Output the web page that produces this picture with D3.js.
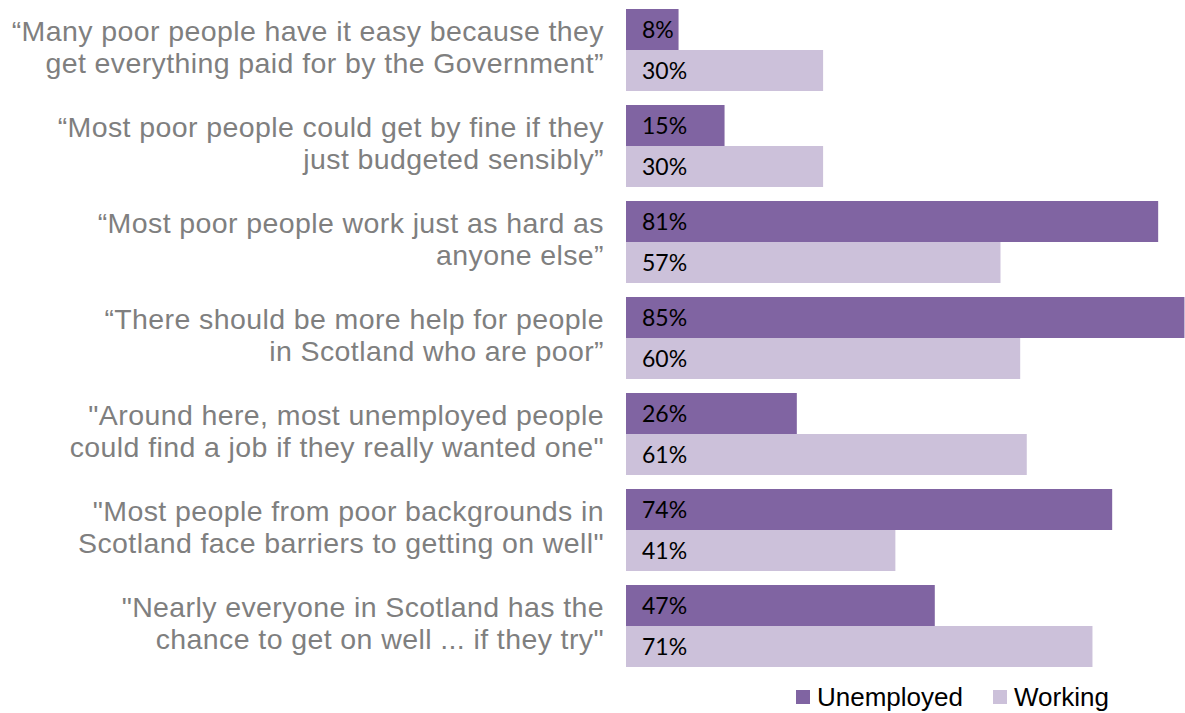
<!DOCTYPE html>
<html>
<head>
<meta charset="utf-8">
<script src="https://cdn.jsdelivr.net/npm/d3@7"></script>
<style>
  body { margin: 0; background: #fff; }
  svg { display: block; }
</style>
</head>
<body>
<div class="chart"></div>
<script>
const categories = [
  ["\u201cMany poor people have it easy because they", "get everything paid for by the Government\u201d"],
  ["\u201cMost poor people could get by fine if they", "just budgeted sensibly\u201d"],
  ["\u201cMost poor people work just as hard as", "anyone else\u201d"],
  ["\u201cThere should be more help for people", "in Scotland who are poor\u201d"],
  ["\"Around here, most unemployed people", "could find a job if they really wanted one\""],
  ["\"Most people from poor backgrounds in", "Scotland face barriers to getting on well\""],
  ["\"Nearly everyone in Scotland has the", "chance to get on well ... if they try\""]
];
const unemployed = [8, 15, 81, 85, 26, 74, 47];
const working = [30, 30, 57, 60, 61, 41, 71];
const seriesNames = ["Unemployed", "Working"];
const seriesColors = ["#8064a2", "#ccc1da"];

const width = 1185, height = 713;

const svg = d3.select(".chart").append("svg")
    .attr("width", width)
    .attr("height", height);

const x = d3.scaleLinear().domain([0, 100]).range([626, 1283]);

const y = d3.scaleBand()
    .domain(d3.range(categories.length))
    .range([2, 674])
    .paddingInner(0.146)
    .paddingOuter(0.073);

const inner = d3.scaleBand()
    .domain([0, 1])
    .range([0, y.bandwidth()]);

const rows = categories.map((c, i) => ({ i, label: c, values: [unemployed[i], working[i]] }));

const group = svg.append("g")
    .selectAll("g")
    .data(rows)
    .join("g")
    .attr("transform", d => `translate(0,${y(d.i)})`);

group.selectAll("rect")
    .data(d => d.values)
    .join("rect")
    .attr("x", x(0))
    .attr("y", (v, j) => inner(j))
    .attr("width", v => x(v) - x(0))
    .attr("height", inner.bandwidth())
    .attr("fill", (v, j) => seriesColors[j]);

group.selectAll("text.val")
    .data(d => d.values)
    .join("text")
    .attr("class", "val")
    .attr("x", x(0) + 16)
    .attr("y", (v, j) => inner(j) + inner.bandwidth() / 2 + 9)
    .style("font-family", "Lato, 'Open Sans', sans-serif")
    .style("font-size", "23px")
    .style("fill", "#000")
    .text(v => v + "%");

// two-line category labels, right aligned against the bars
const label = group.append("text")
    .attr("text-anchor", "end")
    .style("font-family", "'Liberation Sans', Arial, sans-serif")
    .style("font-size", "28.5px")
    .style("letter-spacing", "0.4px")
    .style("fill", "#7f7f7f");

label.selectAll("tspan")
    .data(d => d.label)
    .join("tspan")
    .attr("x", 604)
    .attr("y", (t, k) => 32 + k * 32)
    .text(t => t);

const legend = svg.append("g")
    .selectAll("g")
    .data(seriesNames)
    .join("g")
    .attr("transform", (d, i) => `translate(${796 + i * 197},690)`);

legend.append("rect")
    .attr("width", 14)
    .attr("height", 14)
    .attr("fill", (d, i) => seriesColors[i]);

legend.append("text")
    .attr("x", 21)
    .attr("y", 16)
    .style("font-family", "'Liberation Sans', Arial, sans-serif")
    .style("font-size", "26px")
    .style("fill", "#000")
    .text(d => d);
</script>
</body>
</html>
